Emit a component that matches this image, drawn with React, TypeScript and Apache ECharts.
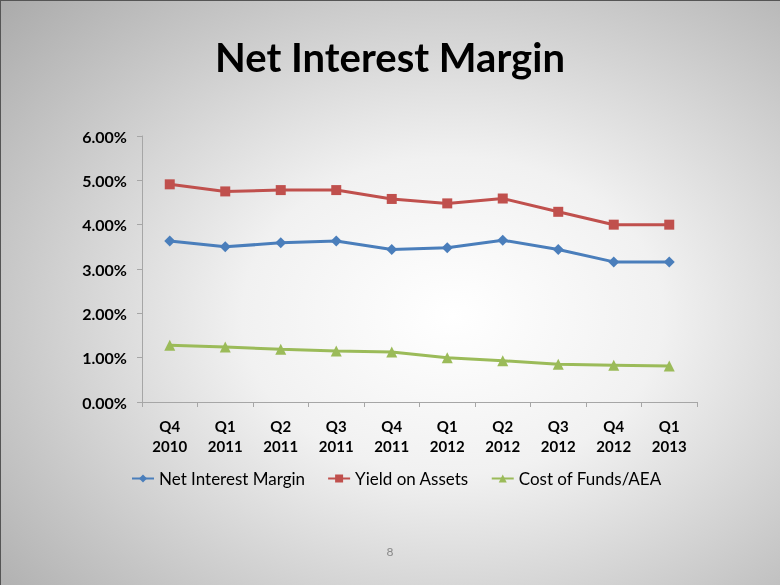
import React, { useEffect, useRef } from "react";
import * as echarts from "echarts";

const categories = ["Q4\n2010", "Q1\n2011", "Q2\n2011", "Q3\n2011", "Q4\n2011", "Q1\n2012", "Q2\n2012", "Q3\n2012", "Q4\n2012", "Q1\n2013"];
const netInterestMargin = [3.63, 3.5, 3.59, 3.63, 3.44, 3.48, 3.65, 3.44, 3.16, 3.16];
const yieldOnAssets = [4.91, 4.75, 4.78, 4.78, 4.58, 4.48, 4.59, 4.29, 4.0, 4.0];
const costOfFunds = [1.28, 1.24, 1.19, 1.15, 1.13, 1.0, 0.93, 0.85, 0.83, 0.81];

const FONT = "Lato, 'Open Sans', sans-serif";

export default function App() {
  const ref = useRef<HTMLDivElement>(null);
  useEffect(() => {
    if (!ref.current) return;
    const chart = echarts.init(ref.current, undefined, { renderer: "svg" });
    const mk = (name: string, data: number[], color: string, symbol: string, size: number) => ({
      name,
      type: "line",
      data,
      color,
      symbol,
      symbolSize: size,
      showSymbol: true,
      lineStyle: { width: 3, color },
      itemStyle: { color },
    });
    chart.setOption({
      animation: false,
      backgroundColor: {
        type: "radial",
        x: 0.58,
        y: 0.54,
        r: 0.9,
        colorStops: [
          { offset: 0, color: "#ffffff" },
          { offset: 0.3, color: "#f1f1f1" },
          { offset: 0.65, color: "#c6c6c6" },
          { offset: 1, color: "#9c9c9c" },
        ],
      },
      title: {
        text: "Net Interest Margin",
        left: "center",
        top: 32,
        textStyle: { fontFamily: FONT, fontWeight: "bold", fontSize: 40, color: "#000" },
      },
      grid: { left: 142, right: 83, top: 136, bottom: 183, containLabel: false },
      legend: {
        bottom: 93,
        left: 126,
        itemWidth: 22,
        itemHeight: 10,
        itemGap: 22,
        textStyle: { fontFamily: FONT, fontSize: 17, color: "#000" },
        data: ["Net Interest Margin", "Yield on Assets", "Cost of Funds/AEA"],
      },
      xAxis: {
        type: "category",
        data: categories,
        boundaryGap: true,
        axisLine: { lineStyle: { color: "#a6a6a6", width: 1 } },
        axisTick: { show: true, length: 5, lineStyle: { color: "#a6a6a6" } },
        axisLabel: {
          fontFamily: FONT,
          fontWeight: "bold",
          fontSize: 15,
          color: "#000",
          lineHeight: 20,
          margin: 14,
        },
      },
      yAxis: {
        type: "value",
        min: 0,
        max: 6,
        interval: 1,
        splitLine: { show: false },
        axisLine: { show: true, lineStyle: { color: "#a6a6a6", width: 1 } },
        axisTick: { show: true, length: 5, lineStyle: { color: "#a6a6a6" } },
        axisLabel: {
          fontFamily: FONT,
          fontWeight: "bold",
          fontSize: 16,
          color: "#000",
          margin: 15,
          formatter: (v: number) => v.toFixed(2) + "%",
        },
      },
      graphic: [
        {
          type: "text",
          left: "center",
          top: 545,
          style: { text: "8", fontFamily: FONT, fontSize: 12, fill: "#888" },
        },
        { type: "rect", left: 0, top: 0, shape: { width: 780, height: 1 }, style: { fill: "#555" } },
        { type: "rect", left: 0, top: 0, shape: { width: 1, height: 585 }, style: { fill: "#555" } },
      ],
      series: [
        mk("Net Interest Margin", netInterestMargin, "#4A7EBB", "diamond", 11),
        mk("Yield on Assets", yieldOnAssets, "#C0504D", "rect", 10),
        mk("Cost of Funds/AEA", costOfFunds, "#9BBB59", "triangle", 11),
      ],
    });
    return () => chart.dispose();
  }, []);
  return <div ref={ref} style={{ position: "fixed", left: 0, top: 0, width: 780, height: 585 }} />;
}
